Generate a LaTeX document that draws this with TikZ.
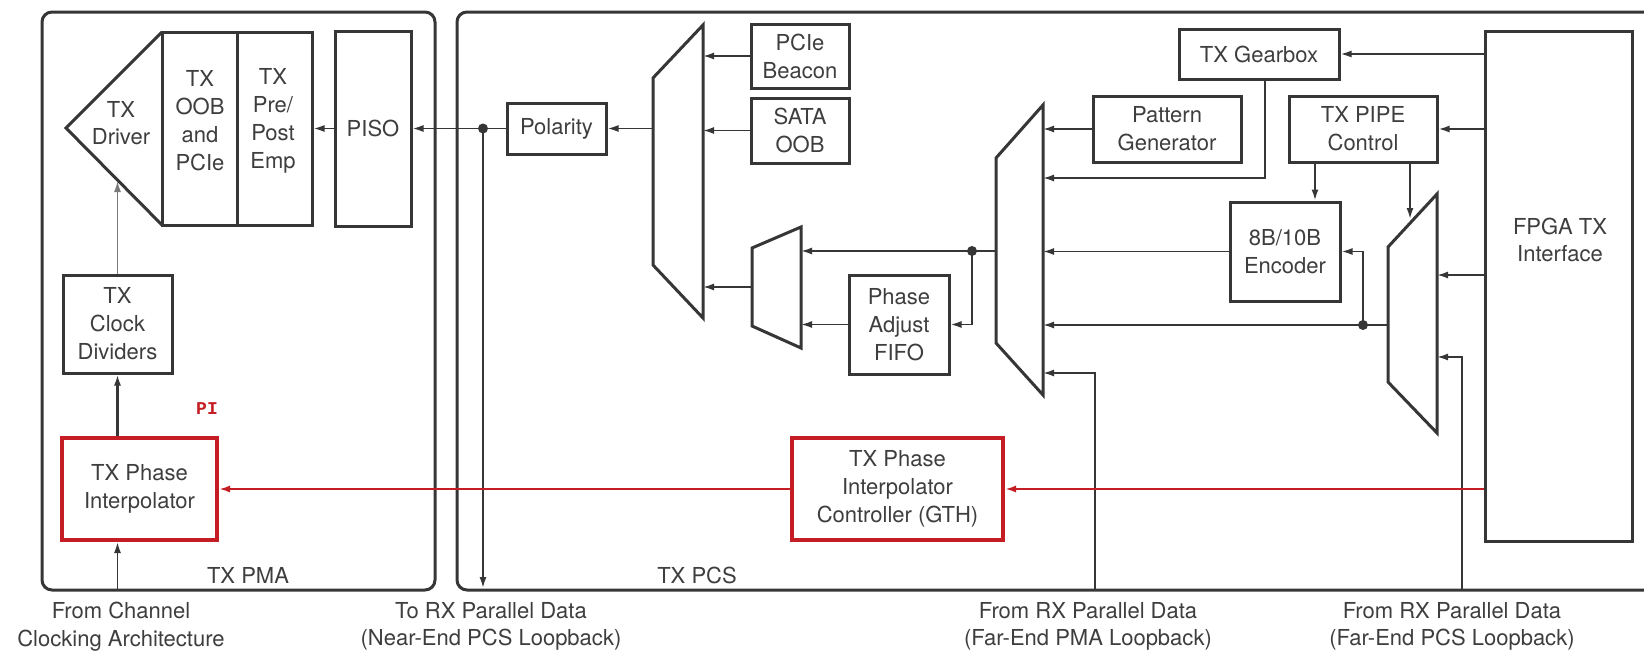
\documentclass[tikz,border=0pt]{standalone}
\usepackage{fontspec}
\setmainfont{TeX Gyre Heros}
\newfontfamily\pimono{Liberation Mono}
\usetikzlibrary{arrows.meta}
\definecolor{ln}{HTML}{363636}
\definecolor{tx}{HTML}{3E3E3E}
\definecolor{rd}{HTML}{C41E24}
\definecolor{gr}{HTML}{7A7A7A}
\tikzset{
  blk/.style={draw=ln, line width=3pt, inner sep=0pt, text=tx, align=center, font=\fontsize{22}{28}\selectfont},
  redblk/.style={blk, draw=rd, line width=4pt},
  arr/.style={draw=ln, line width=1.8pt, -{Latex[length=11pt,width=7pt]}},
  grayarr/.style={draw=gr, line width=1.5pt, -{Latex[length=11pt,width=7pt]}},
  redarr/.style={draw=rd, line width=2pt, -{Latex[length=11pt,width=7pt]}},
  lbl/.style={text=tx, align=center, font=\fontsize{22}{27.5}\selectfont},
  muxshape/.style={draw=ln, line width=3pt, line join=miter},
  container/.style={draw=ln, line width=3pt, rounded corners=10pt},
  dot/.style={circle, fill=ln, inner sep=0pt, minimum size=10pt},
}
\begin{document}
\begin{tikzpicture}[x=1pt,y=-1pt]
\useasboundingbox (0,0) rectangle (1644,653);
\fill[white] (0,0) rectangle (1644,653);
\clip (0,0) rectangle (1644,653);

% containers
\draw[container] (42,12) rectangle (435,590);
\draw[container] (457,12) rectangle (1700,590);
\node[lbl] (pmalbl) at (248,575) {TX PMA};
\node[lbl] (pcslbl) at (697,575) {TX PCS};

% ---------- PMA ----------
\coordinate (drvtop) at (162,32);
\coordinate (drvtip) at (66,128);
\coordinate (drvbot) at (162,225);
\draw[muxshape] (drvtop) -- (drvtip) -- (drvbot);
\node[lbl] (drvtxt) at (121,123) {TX\\Driver};
\node[blk, minimum width=75pt, minimum height=193pt] (oob) at (199.5,128.5) {};
\node[lbl, font=\fontsize{22}{28}\selectfont] (oobtxt) at (200,121) {TX\\OOB\\and\\PCIe};
\node[blk, minimum width=75pt, minimum height=193pt] (pre) at (274.5,128.5) {};
\node[lbl, font=\fontsize{22}{28}\selectfont] (pretxt) at (273,121) {TX\\Pre/\\Post\\Emp};
\node[blk, minimum width=76pt, minimum height=195pt] (piso) at (373,128.5) {PISO};

\node[blk, minimum width=109pt, minimum height=98pt] (clk) at (117.5,324) {TX\\Clock\\Dividers};
\node[redblk, minimum width=155pt, minimum height=102pt] (pi) at (139.5,489) {TX Phase\\Interpolator};
\node[text=rd, font=\pimono\bfseries\fontsize{18}{18}\selectfont] (pilbl) at (207,409) {PI};

\coordinate (drvin) at (117.5,181);
\draw[grayarr] (clk.north) -- (drvin);
\draw[arr, line width=2.4pt] (clk.south |- pi.north) -- (clk.south);
\coordinate (chin) at (117.5,590);
\draw[arr] (chin) -- (chin |- pi.south);
\draw[arr] (piso.west) -- (pre.east);

% ---------- PCS ----------
\node[blk, minimum width=99pt, minimum height=51pt] (pol) at (556.5,128.5) {Polarity};
\node[dot] (j1) at (483,128.5) {};
\coordinate (nearend) at (483,588);
\draw[arr] (pol.west) -- (piso.east);
\draw[arr] (j1.center) -- (nearend);

% mux 1
\coordinate (m1tl) at (653,78);
\coordinate (m1tr) at (703,25);
\coordinate (m1br) at (703,318);
\coordinate (m1bl) at (653,265);
\draw[muxshape] (m1tl) -- (m1tr) -- (m1br) -- (m1bl) -- cycle;
\coordinate (m1r) at (703,0);
\coordinate (m1out) at (653,128.5);
\draw[arr] (m1out) -- (pol.east);

\node[blk, minimum width=98pt, minimum height=64pt] (pcie) at (800,56) {PCIe\\Beacon};
\node[blk, minimum width=98pt, minimum height=65pt] (sata) at (800,130.5) {SATA\\OOB};
\draw[arr] (pcie.west) -- (pcie.west -| m1r);
\draw[arr] (sata.west) -- (sata.west -| m1r);

% small mux
\coordinate (smtl) at (752,248);
\coordinate (smtr) at (801,227);
\coordinate (smbr) at (801,348);
\coordinate (smbl) at (752,326);
\draw[muxshape] (smtl) -- (smtr) -- (smbr) -- (smbl) -- cycle;
\coordinate (smr) at (801,0);
\coordinate (smout) at (752,287);
\draw[arr] (smout) -- (smout -| m1r);

\node[blk, minimum width=100pt, minimum height=99pt] (fifo) at (899,324.5) {Phase\\Adjust\\FIFO};
\node[dot] (j2) at (972,251) {};
\coordinate (m2a) at (996,251);
\draw[arr] (m2a) -- (m2a -| smr);
\draw[arr] (j2.center) |- (fifo.east);
\draw[arr] (fifo.west) -- (fifo.west -| smr);

% mux 2
\coordinate (m2tl) at (996,158);
\coordinate (m2tr) at (1043,105);
\coordinate (m2br) at (1043,395);
\coordinate (m2bl) at (996,343);
\draw[muxshape] (m2tl) -- (m2tr) -- (m2br) -- (m2bl) -- cycle;
\coordinate (m2r) at (1043,0);

\node[blk, minimum width=148pt, minimum height=66pt] (pat) at (1167,129) {Pattern\\Generator};
\node[blk, minimum width=160pt, minimum height=50pt] (gb) at (1259,54) {TX Gearbox};
\node[blk, minimum width=148pt, minimum height=66pt] (pipe) at (1363,129) {TX PIPE\\Control};
\node[blk, minimum width=110pt, minimum height=99pt] (enc) at (1285,251.5) {8B/10B\\Encoder};

\draw[arr] (pat.west) -- (pat.west -| m2r);
\coordinate (gbo) at (1265,79);
\coordinate (gbt) at (1043,178);
\draw[arr] (gbo) |- (gbt);
\draw[arr] (enc.west) -- (enc.west -| m2r);

% mux 3
\coordinate (m3tl) at (1388,247);
\coordinate (m3tr) at (1437,194);
\coordinate (m3br) at (1437,433);
\coordinate (m3bl) at (1388,382);
\draw[muxshape] (m3tl) -- (m3tr) -- (m3br) -- (m3bl) -- cycle;
\coordinate (m3out) at (1388,325);
\node[dot] (j3) at (1363,325) {};
\draw[arr] (m3out) -- (m3out -| m2r);
\draw[arr] (j3.center) |- (enc.east);

\coordinate (p1) at (1315,162);
\draw[arr] (p1) -- (p1 |- enc.north);
\coordinate (p2) at (1410,162);
\coordinate (p2e) at (1410,219);
\draw[arr] (p2) -- (p2e);

% FPGA interface
\node[blk, minimum width=147pt, minimum height=510pt] (fpga) at (1558.5,286) {};
\node[lbl] (fpgatxt) at (1560,240) {FPGA TX\\Interface};
\draw[arr] (fpga.west |- gb.east) -- (gb.east);
\draw[arr] (fpga.west |- pipe.east) -- (pipe.east);
\coordinate (m3in) at (1437,275);
\draw[arr] (fpga.west |- m3in) -- (m3in);

% loopbacks
\coordinate (pmalb) at (1095,590);
\coordinate (pmalbt) at (1043,373);
\draw[arr] (pmalb) |- (pmalbt);
\coordinate (pcslb) at (1462,590);
\coordinate (pcslbt) at (1437,357);
\draw[arr] (pcslb) |- (pcslbt);

% phase interpolator controller
\node[redblk, minimum width=211pt, minimum height=102pt] (ctl) at (897.5,489) {TX Phase\\Interpolator\\Controller (GTH)};
\draw[redarr] (fpga.west |- ctl.east) -- (ctl.east);
\draw[redarr] (ctl.west) -- (pi.east);

% bottom labels
\node[lbl] (l1) at (121,626.5) {From Channel\\Clocking Architecture};
\node[lbl] (l2) at (491,626.5) {To RX Parallel Data\\(Near-End PCS Loopback)};
\node[lbl] (l3) at (1088,626.5) {From RX Parallel Data\\(Far-End PMA Loopback)};
\node[lbl] (l4) at (1452,626.5) {From RX Parallel Data\\(Far-End PCS Loopback)};
\end{tikzpicture}
\end{document}
